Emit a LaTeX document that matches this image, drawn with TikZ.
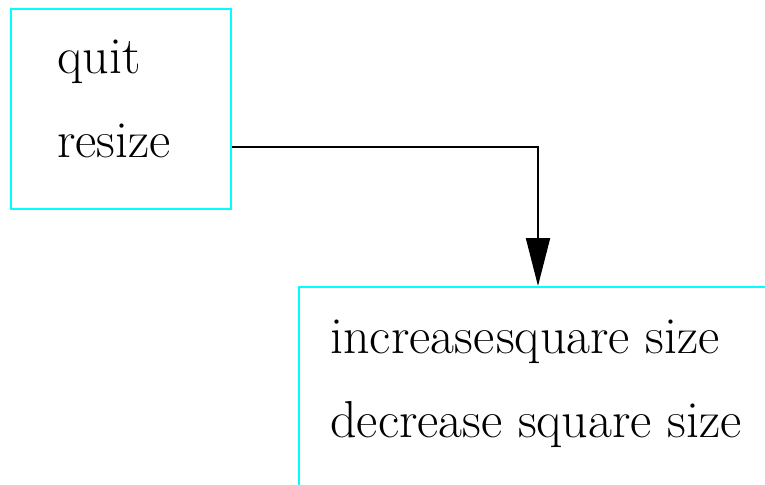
\documentclass[tikz,border=0pt]{standalone}
\usepackage{tikz}
\usetikzlibrary{arrows.meta,calc}

\definecolor{menucyan}{RGB}{0,255,255}

\begin{document}
\begin{tikzpicture}[
    x=0.5pt, y=-0.5pt,
    every node/.style={font=\fontsize{26}{30}\selectfont},
    menu/.style={draw=menucyan, line width=1pt, inner sep=0pt, anchor=north west},
    item/.style={anchor=base west, inner sep=0pt},
    arr/.style={-{Triangle[length=24pt, width=12pt]}, line width=1pt},
  ]
  \useasboundingbox (0,0) rectangle (765,484);
  \clip (0,0) rectangle (765,484);

  % Main menu
  \node[menu, minimum width=110pt, minimum height=100pt] (mainmenu) at (10,8) {};
  \node[item] (quit) at (57,73) {quit};
  \node[item] (resize) at (57,157) {resize};

  % Size submenu (runs off the page)
  \node[menu, minimum width=239pt, minimum height=117pt] (sizemenu) at (298,286) {};
  \node[item] (increase) at (330,353) {increase\kern1pt square size};
  \node[item] (decrease) at (330,437) {decrease square size};

  % resize opens the submenu
  \draw[arr] ([yshift=5pt]mainmenu.east |- resize.base) -| (sizemenu.north);

\end{tikzpicture}
\end{document}
